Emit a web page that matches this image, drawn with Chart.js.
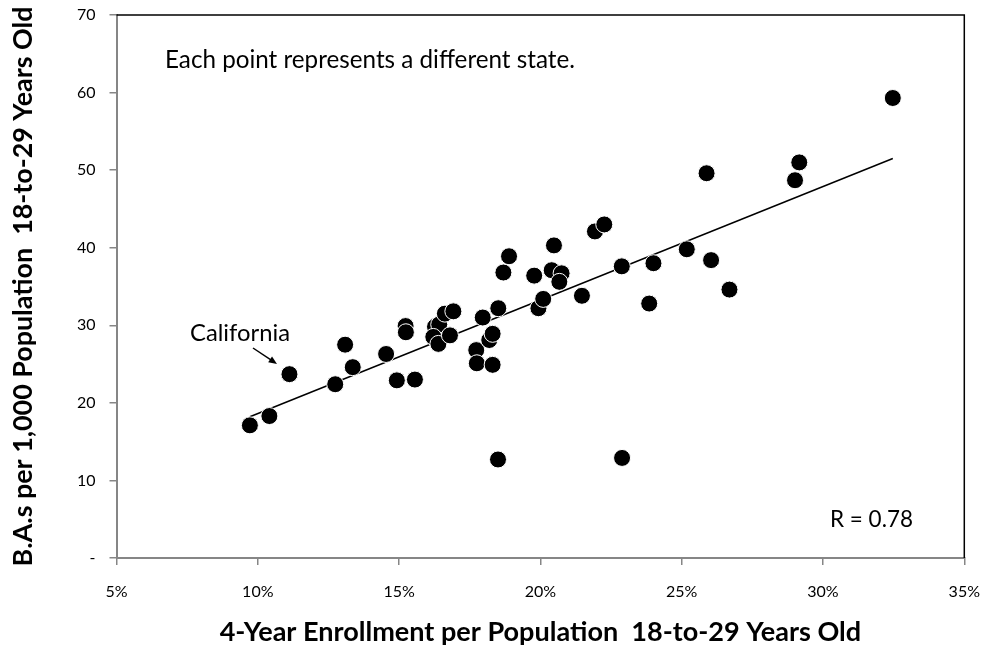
<!DOCTYPE html>
<html>
<head>
<meta charset="utf-8">
<script src="https://cdn.jsdelivr.net/npm/chart.js"></script>
<style>
  html, body { margin: 0; padding: 0; background: #fff; }
  #wrap { width: 985px; height: 649px; }
</style>
</head>
<body>
<div id="wrap"><canvas id="enrollChart" width="985" height="649"></canvas></div>
<script>
// one point per state
const enrollPct = [9.72, 10.41, 11.12, 12.74, 13.09, 13.36, 14.54, 14.92, 15.56, 15.23,
    15.24, 16.27, 16.42, 16.21, 16.39, 16.62, 16.92, 16.80, 17.73, 17.75,
    18.31, 18.19, 18.31, 17.96, 18.51, 18.69, 18.89, 19.78, 19.93, 20.10,
    20.48, 20.40, 20.75, 20.67, 21.47, 21.93, 22.26, 22.88, 23.85, 24.00,
    25.18, 25.88, 26.04, 26.69, 29.01, 29.16, 32.47, 18.50, 22.89];
const baPer1000 = [17.1, 18.3, 23.7, 22.4, 27.5, 24.6, 26.3, 22.9, 23.0, 29.9,
    29.1, 29.8, 30.1, 28.5, 27.6, 31.5, 31.8, 28.7, 26.8, 25.1,
    24.9, 28.1, 28.9, 31.0, 32.2, 36.8, 38.9, 36.4, 32.2, 33.4,
    40.3, 37.1, 36.7, 35.6, 33.8, 42.1, 43.0, 37.6, 32.8, 38.0,
    39.8, 49.6, 38.4, 34.6, 48.7, 51.0, 59.3, 12.7, 12.9];
// fitted line ends, as drawn in the picture
const trendX = [9.72, 32.47];
const trendY = [18.2, 51.5];
const xMin = 5, xMax = 35, xStep = 5;
const yMin = 0, yMax = 70, yStep = 10;

const xTitle = '4-Year Enrollment per Population  18-to-29 Years Old';
const yTitle = 'B.A.s per 1,000 Population  18-to-29 Years Old';

const FONT = "Lato, 'Open Sans', sans-serif";
const AXIS_GRAY = '#868686';

// font size that makes text span a given width
function fitSize(ctx, text, weight, target) {
    ctx.font = weight + ' 20px ' + FONT;
    const w = ctx.measureText(text).width;
    return 20 * target / w;
}
function fitFont(ctx, text, weight, target) {
    return weight + ' ' + fitSize(ctx, text, weight, target).toFixed(2) + 'px ' + FONT;
}

const notesPlugin = {
    id: 'notes',
    afterDatasetsDraw(chart) {
        const ctx = chart.ctx;
        const a = chart.chartArea;
        ctx.save();
        // black frame on top and right
        ctx.strokeStyle = '#000';
        ctx.lineWidth = 1.5;
        ctx.beginPath();
        ctx.moveTo(a.left, a.top);
        ctx.lineTo(a.right, a.top);
        ctx.lineTo(a.right, a.bottom);
        ctx.stroke();

        ctx.fillStyle = '#000';
        ctx.textBaseline = 'alphabetic';
        ctx.textAlign = 'left';
        let txt = 'Each point represents a different state.';
        ctx.font = fitFont(ctx, txt, 'normal', 410);
        ctx.fillText(txt, 165, 68);

        txt = 'California';
        ctx.font = fitFont(ctx, txt, 'normal', 100);
        ctx.fillText(txt, 190, 341);

        txt = 'R = 0.78';
        ctx.font = fitFont(ctx, txt, 'normal', 83);
        ctx.fillText(txt, 830, 527);

        // arrow to California
        const x0 = 253, y0 = 348, x1 = 277, y1 = 364;
        const ang = Math.atan2(y1 - y0, x1 - x0);
        ctx.lineWidth = 1.5;
        ctx.beginPath();
        ctx.moveTo(x0, y0);
        ctx.lineTo(x1 - 6 * Math.cos(ang), y1 - 6 * Math.sin(ang));
        ctx.stroke();
        ctx.beginPath();
        ctx.moveTo(x1, y1);
        ctx.lineTo(x1 - 9 * Math.cos(ang - 0.4), y1 - 9 * Math.sin(ang - 0.4));
        ctx.lineTo(x1 - 9 * Math.cos(ang + 0.4), y1 - 9 * Math.sin(ang + 0.4));
        ctx.closePath();
        ctx.fill();
        ctx.restore();
    }
};

const ctx = document.getElementById('enrollChart').getContext('2d');
const xTitleSize = fitSize(ctx, xTitle, 'bold', 642);
const yTitleSize = fitSize(ctx, yTitle, 'bold', 560);

new Chart(ctx, {
    type: 'scatter',
    data: {
        datasets: [{
            label: 'States',
            data: enrollPct.map((x, i) => ({ x: x, y: baPer1000[i] })),
            backgroundColor: '#000',
            borderColor: '#fff',
            borderWidth: 1,
            pointRadius: 8.5,
            order: 1
        }, {
            label: 'Trend',
            type: 'line',
            data: trendX.map((x, i) => ({ x: x, y: trendY[i] })),
            borderColor: '#000',
            borderWidth: 1.5,
            pointRadius: 0,
            fill: false,
            order: 2
        }]
    },
    options: {
        responsive: false,
        animation: false,
        layout: { padding: { top: 15, right: 20.7, left: 0, bottom: 0 } },
        plugins: {
            legend: { display: false },
            tooltip: { enabled: false }
        },
        scales: {
            x: {
                type: 'linear',
                min: xMin,
                max: xMax,
                afterFit: s => {
                    s.height = 91;
                    s.paddingLeft = 0;
                    s.paddingRight = 0;
                },
                ticks: {
                    stepSize: xStep,
                    color: '#000',
                    padding: 17,
                    font: { family: FONT, size: 16 },
                    callback: v => v + '%'
                },
                grid: { drawOnChartArea: false, tickLength: 7, color: AXIS_GRAY, lineWidth: 1.5 },
                border: { color: AXIS_GRAY, width: 2 },
                title: {
                    display: true,
                    text: xTitle,
                    color: '#000',
                    font: { family: FONT, size: xTitleSize, weight: 'bold' },
                    padding: { top: 0, bottom: 0 }
                }
            },
            y: {
                min: yMin,
                max: yMax,
                afterFit: s => {
                    s.width = 116.5;
                    s.paddingTop = 0;
                    s.paddingBottom = 0;
                },
                ticks: {
                    stepSize: yStep,
                    color: '#000',
                    padding: 14,
                    font: { family: FONT, size: 16 },
                    callback: v => v === 0 ? '-' : v
                },
                grid: { drawOnChartArea: false, tickLength: 7, color: AXIS_GRAY, lineWidth: 1.5 },
                border: { color: AXIS_GRAY, width: 2 },
                title: {
                    display: true,
                    text: yTitle,
                    color: '#000',
                    font: { family: FONT, size: yTitleSize, weight: 'bold' },
                    padding: { top: 7, bottom: 0 }
                }
            }
        }
    },
    plugins: [notesPlugin]
});
</script>
</body>
</html>
